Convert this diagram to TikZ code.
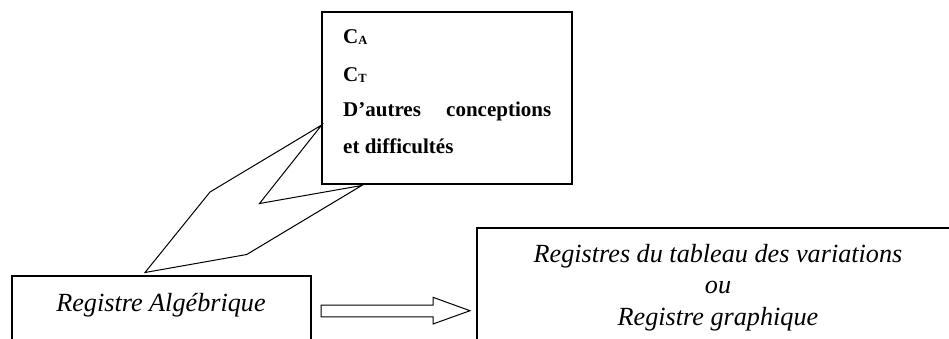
\documentclass[tikz,border=0pt]{standalone}
\usepackage{fontspec}
\setmainfont{Liberation Serif}
\usetikzlibrary{calc}
\begin{document}
\begin{tikzpicture}[x=1pt,y=-1pt,
  boxstyle/.style={draw=black,line width=1.3pt,rectangle,inner sep=0pt,outer sep=0pt},
  boldtext/.style={anchor=base west,inner sep=0pt,font=\fontsize{21}{25}\selectfont\bfseries},
  ittext/.style={anchor=base,inner sep=0pt,font=\fontsize{26.2}{31}\selectfont\itshape},
  bolt/.style={draw=black,line width=1pt,line join=miter},
  hollowarrow/.style={draw=black,line width=1pt,line join=miter}]
\useasboundingbox (0,0) rectangle (949,338);
\clip (0,0) rectangle (949,338);
\fill[white] (0,0) rectangle (949,338);
% boxes
\node[boxstyle,minimum width=250pt,minimum height=172pt] (top) at (447,98) {};
\node[boxstyle,minimum width=299pt,minimum height=124pt] (alg) at (161.5,338) {};
\node[boxstyle,minimum width=523pt,minimum height=222pt] (reg) at (738.5,339) {};
% top box text
\node[boldtext] (ca) at (343,43) {C\raisebox{-1.2pt}{\fontsize{12.5}{13}\selectfont A}};
\node[boldtext] (ct) at (343,81) {C\raisebox{-1.2pt}{\fontsize{12.5}{13}\selectfont T}};
\node[boldtext] (dautres) at (343,116) {\hbox to 208pt{D’autres\hfill conceptions}};
\node[boldtext] (diff) at (343,153) {et difficultés};
% left box text
\node[ittext] (algtxt) at (161,311.7) {Registre Algébrique};
% right box text
\node[ittext] (r1) at (718,262.3) {Registres du tableau des variations};
\node[ittext] (r2) at (718,293.5) {ou};
\node[ittext] (r3) at (718,325) {Registre graphique};
% lightning connector between top box and left box
\coordinate (bA) at (321.7,125);
\coordinate (bB) at (210,192);
\coordinate (bC) at (145,272.5);
\coordinate (bD) at (246.7,254.5);
\coordinate (bE) at (361.7,185.5);
\coordinate (bF) at (259.5,203.5);
\draw[bolt] (bA) -- (bB) -- (bC) -- (bD) -- (bE) -- (bF) -- cycle;
% hollow arrow from left box to right box
\coordinate (aS) at (321,311);
\coordinate (aE) at (470,310.7);
\draw[hollowarrow] ($(aS)+(0,-5.8)$) -- (433,305.2) -- (433,297.3) -- (aE) -- (433,324) -- (433,316.8) -- ($(aS)+(0,5.8)$) -- cycle;
\end{tikzpicture}
\end{document}
